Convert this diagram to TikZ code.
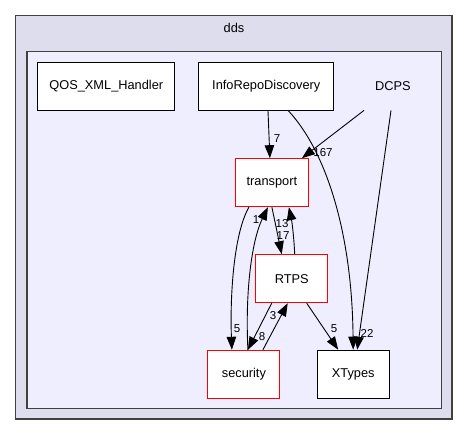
\documentclass[tikz,border=0pt]{standalone}
\usepackage{fontspec}
\setmainfont{Liberation Sans}
\usetikzlibrary{arrows.meta}
\definecolor{outerfill}{HTML}{DDDDEE}
\definecolor{innerfill}{HTML}{EEEEFF}
\definecolor{clborder}{HTML}{404040}
\begin{document}
\begin{tikzpicture}[x=1pt,y=-1pt,
  dirbox/.style={draw=black,fill=white,line width=1pt,minimum width=72pt,minimum height=48pt,inner sep=0pt,font=\fontsize{12.8}{14}\selectfont},
  redbox/.style={dirbox,draw=red},
  lbl/.style={font=\fontsize{11.5}{13}\selectfont,inner sep=0pt},
  edge/.style={line width=0.9pt,-{Triangle[length=13pt,width=9.5pt]}}]
\useasboundingbox (0,0) rectangle (468,436);
\draw[fill=outerfill,draw=clborder,line width=1.4pt] (15.5,15.5) rectangle (452,419);
\node[font=\fontsize{12.8}{14}\selectfont] (ddslbl) at (234,28) {dds};
\draw[fill=innerfill,draw=clborder,line width=1.2pt] (27,51.5) rectangle (441.5,408.5);
\node[dirbox,minimum width=137pt] (qos) at (106.3,86.2) {QOS\_XML\_Handler};
\node[dirbox,minimum width=135pt] (info) at (266.3,86.2) {InfoRepoDiscovery};
\node[font=\fontsize{12.8}{14}\selectfont,minimum width=70pt,minimum height=48pt,inner sep=0pt] (dcps) at (393,86.2) {DCPS};
\node[redbox,minimum width=73.5pt] (transport) at (271.9,182.7) {transport};
\node[redbox] (rtps) at (291.7,278.7) {RTPS};
\node[redbox] (security) at (243.9,374.3) {security};
\node[dirbox] (xtypes) at (353.2,374.2) {XTypes};
% edges
\draw[edge] ([xshift=1.7pt]info.south) -- ([xshift=-2pt]transport.north);
\draw[edge] ([xshift=-29pt]dcps.south) -- ([xshift=30pt]transport.north);
\draw[edge] ([xshift=22pt]info.south) .. controls (325,150) and (352,230) .. ([xshift=0pt]xtypes.north);
\draw[edge] ([xshift=-2pt]dcps.south) -- ([xshift=4pt]xtypes.north);
\draw[edge] ([xshift=-23pt]transport.south) .. controls (233,235) and (230,300) .. ([xshift=-12pt]security.north);
\draw[edge] ([xshift=4pt]security.north) .. controls (245,290) and (252,240) .. ([xshift=-4pt]transport.south);
\draw[edge] ([xshift=0pt]transport.south) -- ([xshift=-10pt]rtps.north);
\draw[edge] ([xshift=3pt]rtps.north) .. controls (294,238) and (292,222) .. ([xshift=17pt]transport.south);
\draw[edge] ([xshift=-20pt]rtps.south) -- ([xshift=4pt]security.north);
\draw[edge] ([xshift=19pt]security.north) -- ([xshift=-4pt]rtps.south);
\draw[edge] ([xshift=15pt]rtps.south) -- ([xshift=-15pt]xtypes.north);
% labels
\node[lbl] (l7) at (277,139) {7};
\node[lbl] (l167) at (323,153) {167};
\node[lbl] (l22) at (367,333) {22};
\node[lbl] (l5a) at (237,329) {5};
\node[lbl] (l1) at (256,220) {1};
\node[lbl] (l17) at (283,235.5) {17};
\node[lbl] (l13) at (282,223.5) {13};
\node[lbl] (l8) at (262,337) {8};
\node[lbl] (l3) at (273,316) {3};
\node[lbl] (l5b) at (334,329) {5};
\end{tikzpicture}
\end{document}
